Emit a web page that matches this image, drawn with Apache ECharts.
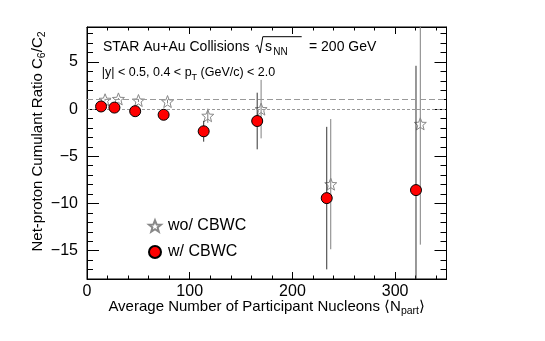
<!DOCTYPE html>
<html>
<head>
<meta charset="utf-8">
<script src="https://cdn.jsdelivr.net/npm/echarts@6/dist/echarts.min.js"></script>
<style>
  html, body { margin: 0; padding: 0; background: #fff; }
  #main { width: 545px; height: 341px; }
</style>
</head>
<body>
<div id="main"></div>
<script>
// C6/C2 without centrality bin width correction (open stars)
var npartWo = [17.6, 30.6, 50.1, 78.4, 117.6, 169.5, 237.3, 324.5];
var ratioWo = [0.99, 1.08, 0.91, 0.80, -0.70, 0.00, -7.95, -1.56];
var errWo = [0.1, 0.1, 0.15, 0.2, 0.75, 3.1, 6.9, 12.8];

// C6/C2 with CBWC (red circles)
var npartW = [13.7, 26.7, 46.9, 74.6, 113.6, 165.7, 233.4, 320.3];
var ratioW = [0.28, 0.16, -0.22, -0.60, -2.35, -1.26, -9.43, -8.58];
var errW = [0.2, 0.25, 0.3, 0.45, 1.1, 3.0, 7.55, 13.17];

var yTicks = [-15, -10, -5, 0, 5];
var refLines = [1, 0];

var FONT = 'Liberation Sans, Arial, Helvetica, sans-serif';
var STAR = 'path://M0,-10L2.6,-3.4L9.5,-3.1L4.1,1.3L6,8.1L0,4.2L-6,8.1L-4.1,1.3L-9.5,-3.1L-2.6,-3.4Z';

function points(xs, ys, es) {
  return xs.map(function (x, i) { return [x, ys[i], es ? es[i] : 0]; });
}

function errorBar(color) {
  return function (params, api) {
    var x = api.value(0), y = api.value(1), e = api.value(2);
    var p1 = api.coord([x, y + e]);
    var p2 = api.coord([x, y - e]);
    return {
      type: 'line',
      shape: { x1: p1[0], y1: p1[1], x2: p2[0], y2: p2[1] },
      style: { stroke: color, lineWidth: 1 }
    };
  };
}

function minus(v) { return String(v).replace('-', '\u2212'); }

// one frame axis; negative tick length so the ticks point into the plot
function frameAxis(pos, min, max, len, extra) {
  var ax = {
    type: 'value', position: pos, min: min, max: max,
    axisLine: { show: false, onZero: false, lineStyle: { color: '#000', width: 1 } },
    axisTick: { show: true, inside: false, length: -len, lineStyle: { color: '#000', width: 1 } },
    axisLabel: { show: false },
    splitLine: { show: false }
  };
  for (var k in extra) {
    if (typeof extra[k] === 'object' && ax[k]) {
      for (var j in extra[k]) ax[k][j] = extra[k][j];
    } else {
      ax[k] = extra[k];
    }
  }
  return ax;
}

var chart = echarts.init(document.getElementById('main'));

chart.setOption({
  animation: false,
  backgroundColor: '#fff',
  grid: {
    left: 87, top: 27, width: 359.5, height: 252,
    show: true, borderColor: '#000', borderWidth: 1, backgroundColor: 'transparent'
  },
  xAxis: [
    frameAxis('bottom', 0, 350, 7, {
      interval: 100,
      axisLine: { show: true },
      axisLabel: { show: true, color: '#000', fontSize: 16, fontFamily: FONT, margin: 5, showMaxLabel: false }
    }),
    frameAxis('bottom', 0, 350, 3.5, { interval: 20 }),
    frameAxis('top', 0, 350, 7, { interval: 100, axisLine: { show: true } }),
    frameAxis('top', 0, 350, 3.5, { interval: 20 })
  ],
  yAxis: [
    frameAxis('left', -18, 8.7, 12, {
      axisLine: { show: true },
      axisTick: { customValues: yTicks },
      axisLabel: {
        show: true, color: '#000', fontSize: 16, fontFamily: FONT, margin: 9,
        customValues: yTicks, formatter: minus
      }
    }),
    frameAxis('left', -18, 8.7, 6, { interval: 1 }),
    frameAxis('right', -18, 8.7, 12, {
      axisLine: { show: true },
      axisTick: { customValues: yTicks },
      axisLabel: { show: false, customValues: yTicks }
    }),
    frameAxis('right', -18, 8.7, 6, { interval: 1 })
  ],
  legend: {
    orient: 'vertical', left: 143, top: 213,
    itemWidth: 12, itemHeight: 12, itemGap: 10,
    textStyle: { color: '#000', fontSize: 16, fontFamily: FONT, padding: [0, 0, 0, 2] },
    data: ['wo/ CBWC', 'w/ CBWC']
  },
  series: [
    {
      type: 'line', data: [], silent: true,
      markLine: {
        silent: true, symbol: ['none', 'none'], label: { show: false },
        lineStyle: { color: '#999', width: 1 },
        data: [
          { yAxis: refLines[0], lineStyle: { type: [6, 3] } },
          { yAxis: refLines[1], lineStyle: { type: [3, 2] } }
        ]
      }
    },
    {
      type: 'custom', name: 'errWo', clip: true, silent: true,
      renderItem: errorBar('#808080'),
      data: points(npartWo, ratioWo, errWo), z: 2
    },
    {
      type: 'scatter', name: 'wo/ CBWC', symbol: STAR, symbolSize: 12,
      itemStyle: { color: 'rgba(255,255,255,0)', borderColor: '#888', borderWidth: 1, opacity: 1 },
      data: points(npartWo, ratioWo), z: 3
    },
    {
      type: 'custom', name: 'errW', clip: true, silent: true,
      renderItem: errorBar('#333'),
      data: points(npartW, ratioW, errW), z: 4
    },
    {
      type: 'scatter', name: 'w/ CBWC', symbol: 'circle', symbolSize: 11,
      itemStyle: { color: '#ff0000', borderColor: '#000', borderWidth: 1, opacity: 1 },
      data: points(npartW, ratioW), z: 5
    }
  ],
  graphic: [
    {
      type: 'text', x: 103, y: 47.5,
      style: {
        text: 'STAR Au+Au Collisions', fontSize: 14, fontFamily: FONT, fill: '#000',
        verticalAlign: 'middle'
      }
    },
    {
      type: 'polyline',
      shape: { points: [[255.5, 46.5], [257.5, 45.2], [260, 53], [262.8, 36.7], [301.7, 36.7]] },
      style: { stroke: '#000', lineWidth: 1, fill: null }
    },
    {
      type: 'text', x: 265, y: 47.5,
      style: { text: 's', fontSize: 14, fontFamily: FONT, fill: '#000', verticalAlign: 'middle' }
    },
    {
      type: 'text', x: 273.3, y: 52,
      style: { text: 'NN', fontSize: 10, fontFamily: FONT, fill: '#000', verticalAlign: 'middle' }
    },
    {
      type: 'text', x: 309, y: 47.5,
      style: { text: '= 200 GeV', fontSize: 14, fontFamily: FONT, fill: '#000', verticalAlign: 'middle' }
    },
    {
      type: 'text', x: 101.7, y: 63.7,
      style: {
        text: '|y| < 0.5, 0.4 < p{sub|T} (GeV/c) < 2.0',
        fontSize: 12.5, fontFamily: FONT, fill: '#000', lineHeight: 18,
        rich: {
          sub: { fontSize: 9, fontFamily: FONT, lineHeight: 9, verticalAlign: 'bottom' }
        }
      }
    },
    {
      type: 'text', x: 266.7, y: 296.8,
      style: {
        text: 'Average Number of Participant Nucleons \u27e8N{sub|part}\u27e9',
        fontSize: 15, fontFamily: FONT, fill: '#000', lineHeight: 20,
        align: 'center', verticalAlign: 'top',
        rich: {
          sub: { fontSize: 10.5, fontFamily: FONT, lineHeight: 10, verticalAlign: 'bottom' }
        }
      }
    },
    {
      type: 'text', x: 38, y: 141.5, rotation: Math.PI / 2,
      style: {
        text: 'Net-proton Cumulant Ratio C{sub|6}/C{sub|2}',
        fontSize: 15, fontFamily: FONT, fill: '#000', lineHeight: 20,
        align: 'center', verticalAlign: 'middle',
        rich: {
          sub: { fontSize: 10.5, fontFamily: FONT, lineHeight: 10, verticalAlign: 'bottom' }
        }
      }
    }
  ]
});
</script>
</body>
</html>
